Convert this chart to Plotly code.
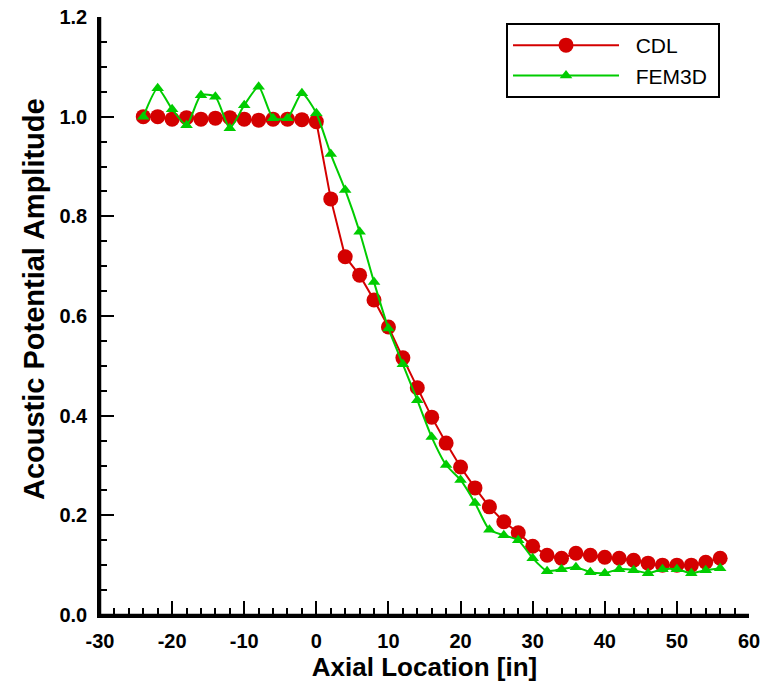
import plotly.graph_objects as go

x_cdl = [-24, -22, -20, -18, -16, -14, -12, -10, -8, -6, -4, -2, 0, 2, 4, 6, 8, 10, 12, 14,
         16, 18, 20, 22, 24, 26, 28, 30, 32, 34, 36, 38, 40, 42, 44, 46, 48, 50, 52, 54, 56]
y_cdl = [1.0, 1.0, 0.995, 0.998, 0.995, 0.997, 0.998, 0.995, 0.993, 0.995, 0.995, 0.994, 0.99,
         0.835, 0.719, 0.682, 0.632, 0.578, 0.516, 0.456, 0.397, 0.345, 0.297, 0.255, 0.217,
         0.187, 0.165, 0.138, 0.12, 0.114, 0.124, 0.12, 0.116, 0.114, 0.11, 0.104, 0.10, 0.10,
         0.10, 0.106, 0.114]

x_fem = [-24, -22, -20, -18, -16, -14, -12, -10, -8, -6, -4, -2, 0, 2, 4, 6, 8, 10, 12, 14,
         16, 18, 20, 22, 24, 26, 28, 30, 32, 34, 36, 38, 40, 42, 44, 46, 48, 50, 52, 54, 56]
y_fem = [1.0, 1.057, 1.015, 0.983, 1.043, 1.04, 0.977, 1.023, 1.06, 0.997, 0.997, 1.047, 1.007,
         0.925, 0.853, 0.769, 0.668, 0.575, 0.503, 0.431, 0.357, 0.301, 0.271, 0.225, 0.171,
         0.16, 0.15, 0.114, 0.088, 0.092, 0.096, 0.086, 0.084, 0.092, 0.09, 0.084, 0.092, 0.092,
         0.084, 0.09, 0.094]

x_tickvals = [-30, -20, -10, 0, 10, 20, 30, 40, 50, 60]
x_ticktext = ["-30", "-20", "-10", "0", "10", "20", "30", "40", "50", "60"]
y_tickvals = [0.0, 0.2, 0.4, 0.6, 0.8, 1.0, 1.2]
y_ticktext = ["0.0", "0.2", "0.4", "0.6", "0.8", "1.0", "1.2"]

RED = "#d40000"
GREEN = "#00cc00"
FONT = "Liberation Sans"
NB = "\u00a0"

fig = go.Figure()
fig.add_trace(go.Scatter(
    x=x_cdl, y=y_cdl, name=NB * 2 + "CDL", mode="lines+markers",
    line=dict(color=RED, width=2),
    marker=dict(symbol="circle", size=15, color=RED),
))
fig.add_trace(go.Scatter(
    x=x_fem, y=y_fem, name=NB * 2 + "FEM3D" + NB, mode="lines+markers",
    line=dict(color=GREEN, width=2, shape="spline", smoothing=0.6),
    marker=dict(symbol="triangle-up", size=11, color=GREEN),
))

axis_common = dict(
    showgrid=False, zeroline=False, showline=True, linecolor="black", linewidth=2.5,
    ticks="inside", ticklen=14, tickwidth=2, tickcolor="black",
    mirror=False, automargin=False, ticklabeloverflow="allow",
    tickfont=dict(family=FONT, size=20, color="black", weight="bold"),
)

fig.update_xaxes(
    range=[-30, 60], tickmode="array", tickvals=x_tickvals, ticktext=x_ticktext,
    minor=dict(dtick=2, tick0=-30, ticks="inside", ticklen=7, tickwidth=1.5, tickcolor="black"),
    ticklabelstandoff=6,
    title=dict(text="Axial Location [in]", font=dict(family=FONT, size=26, color="black", weight="bold"), standoff=0),
    **axis_common,
)
fig.update_yaxes(
    range=[0, 1.2], tickmode="array", tickvals=y_tickvals, ticktext=y_ticktext,
    minor=dict(dtick=0.05, tick0=0, ticks="inside", ticklen=7, tickwidth=1.5, tickcolor="black"),
    ticklabelstandoff=6,
    **axis_common,
)

# axis frame lines (left and bottom) in paper coordinates
fig.add_shape(type="line", xref="paper", yref="paper", x0=0, x1=0, y0=0, y1=1,
              line=dict(color="black", width=2.5), layer="above")
fig.add_shape(type="line", xref="paper", yref="paper", x0=0, x1=1, y0=0, y1=0,
              line=dict(color="black", width=2.5), layer="above")

fig.add_annotation(
    text="Acoustic Potential Amplitude", textangle=-90, showarrow=False,
    xref="paper", yref="paper", x=-0.102, y=0.528, xanchor="center", yanchor="middle",
    font=dict(family=FONT, size=29, color="black", weight="bold"),
)

fig.update_layout(
    width=763, height=685,
    margin=dict(l=100, r=14, t=17, b=70),
    plot_bgcolor="white", paper_bgcolor="white",
    showlegend=True,
    legend=dict(
        x=0.6256, y=0.99, xanchor="left", yanchor="top",
        bordercolor="black", borderwidth=2, bgcolor="white",
        font=dict(family=FONT, size=21, color="black"),
        itemwidth=106, tracegroupgap=0,
    ),
)

fig.write_html(
    "out.html",
    config={"displayModeBar": False},
    post_script="document.body.style.margin='0';document.body.style.overflow='hidden';",
)
